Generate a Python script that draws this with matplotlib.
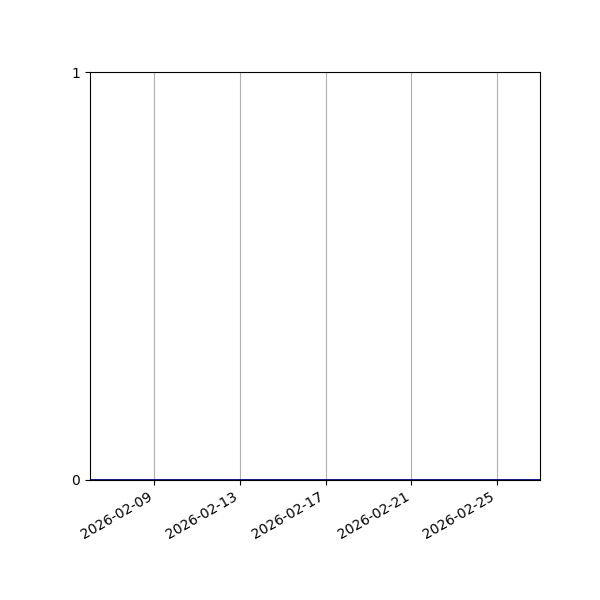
import pandas as pd
import matplotlib
matplotlib.use("Agg")
import matplotlib.pyplot as plt

dates = pd.date_range("2026-02-06", "2026-02-27", freq="D")
values = [0] * len(dates)

fig, ax = plt.subplots(figsize=(6, 6), dpi=100)
ax.plot(dates, values, color="darkblue", linewidth=2)
ax.set_xlim(dates[0], dates[-1])
ax.set_ylim(0, 1)
ax.set_yticks([0, 1])
ax.grid(axis="x", color="#b0b0b0")
fig.autofmt_xdate()
fig.subplots_adjust(left=0.15, right=0.9, top=0.88, bottom=0.2)
fig.savefig("out.png")
